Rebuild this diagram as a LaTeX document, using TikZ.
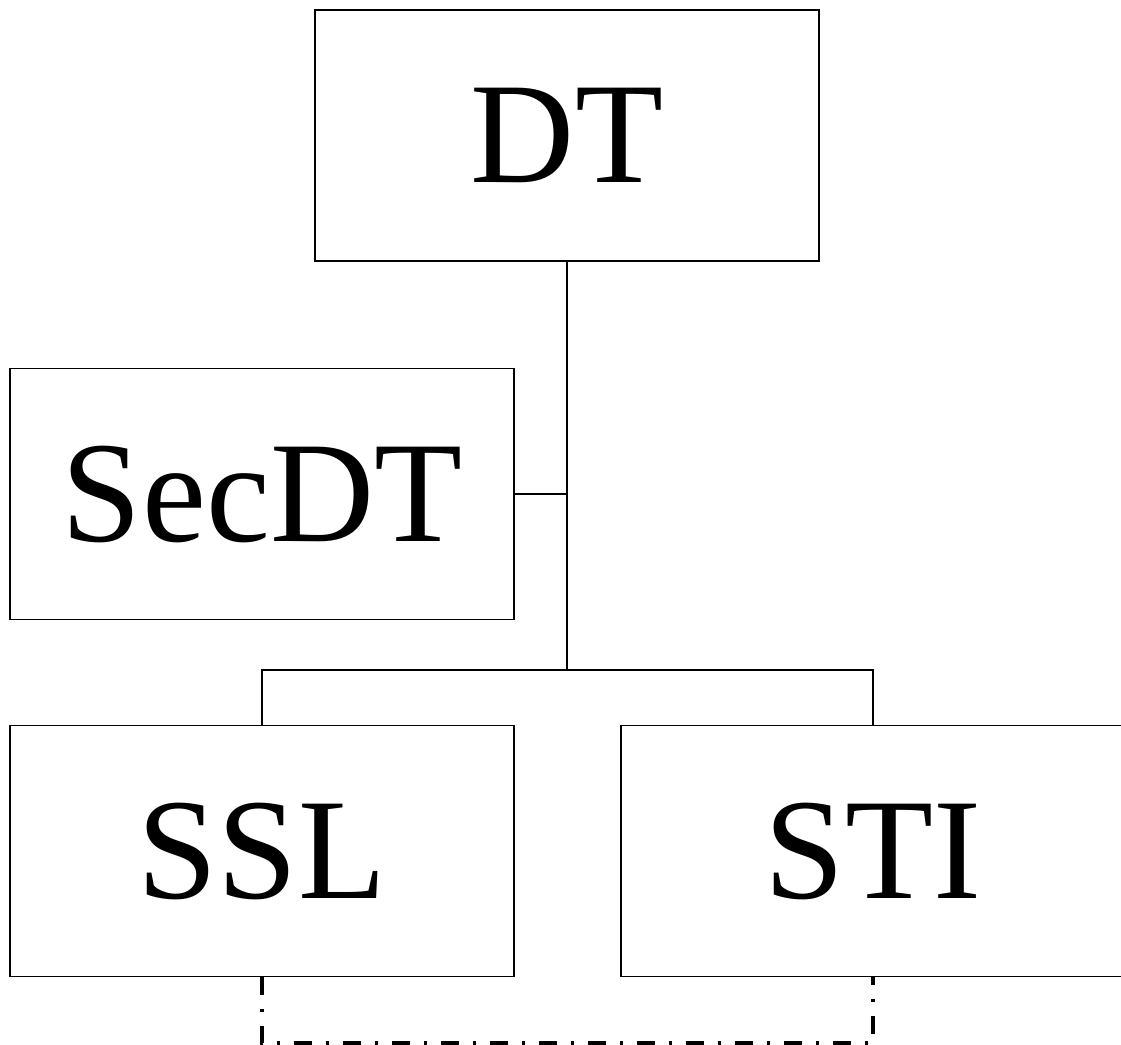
\documentclass[tikz,border=0pt]{standalone}
\usepackage{fontspec}
\setmainfont{Liberation Serif}
\usepackage{tikz}

\begin{document}
\begin{tikzpicture}[
    box/.style={draw, line width=0.85pt, minimum width=10.08cm, minimum height=5.02cm,
      inner sep=0pt, font=\fontsize{82}{90}\selectfont},
    link/.style={line width=0.85pt},
    sharelink/.style={line width=2pt, dash pattern=on 0.36cm off 0.28cm on 0.06cm off 0.28cm}]
    \clip (0,0) rectangle (22.42,-20.9);
    \node[box] (dt)  at (11.34,-2.71)  {DT};
    \node[box] (sec) at (5.24,-9.88)   {SecDT};
    \node[box] (ssl) at (5.24,-17.02)  {SSL};
    \node[box] (sti) at (17.46,-17.02) {STI};
    \coordinate (j) at (11.34,-13.4);
    \coordinate (b) at (5.24,-20.86);
    \draw[link] (dt.south) -- (j);
    \draw[link] (sec.east) -- (sec.east -| dt.south);
    \draw[link] (ssl.north) |- (j) -| (sti.north);
    %\draw[link] (j) -- (sti.north);
    \draw[sharelink] (ssl.south) -- (b) -| (sti.south);
\end{tikzpicture}
\end{document}
